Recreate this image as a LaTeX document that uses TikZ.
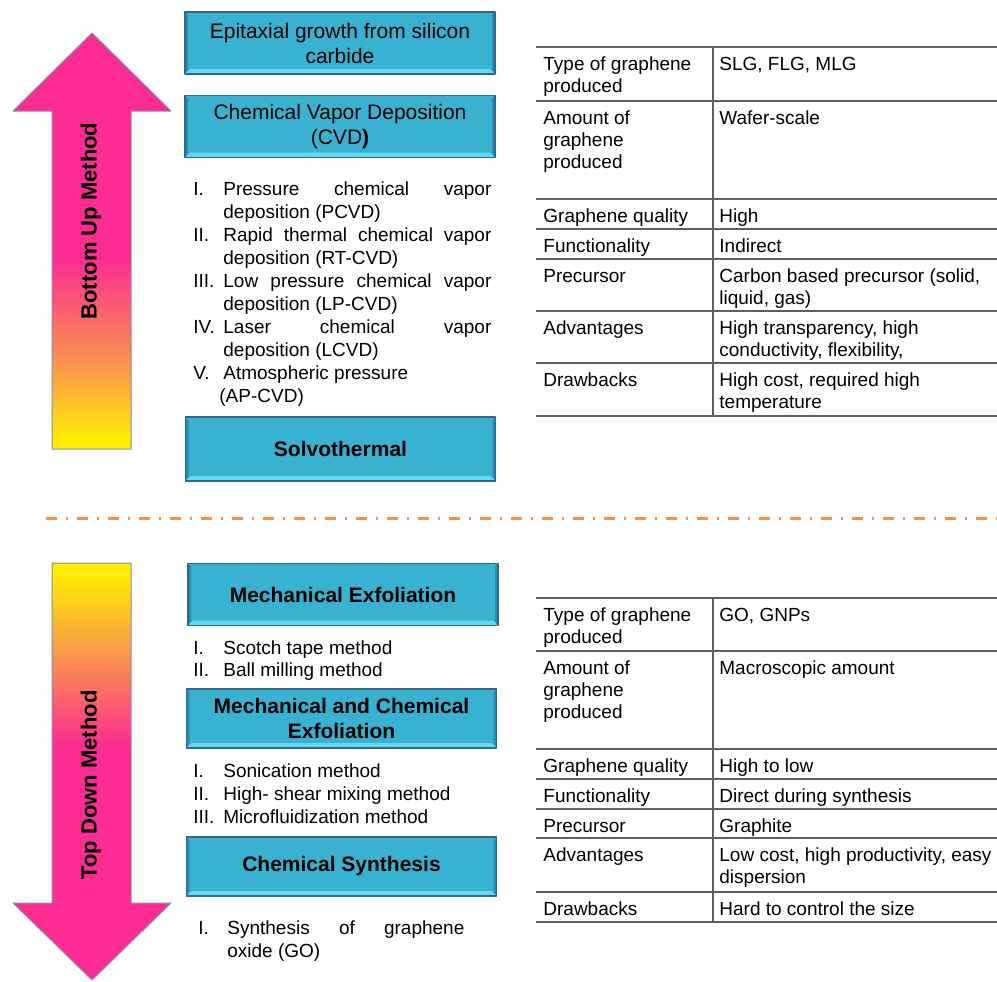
\documentclass[tikz,border=0pt]{standalone}
\usepackage{fontspec}
\setmainfont{Liberation Sans}
\definecolor{hotpink}{RGB}{252,44,146}
\definecolor{sunorange}{RGB}{250,150,75}
\definecolor{lemon}{RGB}{255,238,0}
\pgfdeclareverticalshading{bottomup}{100bp}{color(0bp)=(lemon); color(26bp)=(lemon); color(35bp)=(sunorange); color(48bp)=(hotpink); color(100bp)=(hotpink)}
\pgfdeclareverticalshading{topdown}{100bp}{color(0bp)=(hotpink); color(53bp)=(hotpink); color(64bp)=(sunorange); color(74bp)=(lemon); color(100bp)=(lemon)}
\begin{document}
\begin{tikzpicture}[x=0.5pt,y=-0.5pt,line join=round]
	\definecolor{boxcyan}{RGB}{56,178,208}
	\definecolor{boxedge}{RGB}{48,105,135}
	\definecolor{bevlight}{RGB}{100,218,242}
	\definecolor{bevdark}{RGB}{38,140,176}
	\definecolor{dashorange}{RGB}{245,145,75}
	\definecolor{rulegray}{RGB}{95,95,95}
	\definecolor{arrowedge}{RGB}{140,140,178}
	\def\tabL{536} \def\tabM{713} \def\tabR{997}
	\tikzset{
		hop/.style={draw=boxedge,fill=boxcyan,line width=0.6pt,minimum width=155pt,
			minimum height=31pt,inner sep=0pt,align=center,
			font=\fontsize{10.5}{12.5}\selectfont,
			path picture={
				\fill[bevlight] (path picture bounding box.south west)--(path picture bounding box.south east)
				--([xshift=-2.5pt,yshift=2.5pt]path picture bounding box.south east)
				--([xshift=2.5pt,yshift=2.5pt]path picture bounding box.south west)--cycle;
				\fill[bevdark] (path picture bounding box.south west)--(path picture bounding box.north west)
				--([xshift=1.5pt,yshift=-1.5pt]path picture bounding box.north west)
				--([xshift=1.5pt,yshift=2.5pt]path picture bounding box.south west)--cycle;
				\fill[bevdark] (path picture bounding box.south east)--(path picture bounding box.north east)
				--([xshift=-1.5pt,yshift=-1.5pt]path picture bounding box.north east)
				--([xshift=-1.5pt,yshift=2.5pt]path picture bounding box.south east)--cycle;
		}},
		armlabel/.style={rotate=90,inner sep=0pt,font=\fontsize{11}{13}\selectfont\bfseries},
		itemnum/.style={anchor=north west,inner sep=0pt,font=\fontsize{9.5}{11.5}\selectfont},
		itemtext/.style={itemnum,text width=#1,align=justify},
		cell/.style={anchor=north west,inner sep=0pt,align=left,font=\fontsize{9.5}{11.2}\selectfont},
		tabrule/.style={draw=rulegray,line width=0.6pt}
	}
	\useasboundingbox (0,0) rectangle (997,981);
	
	%% hai mui ten
	\shade[shading=bottomup,draw=arrowedge,line width=0.5pt] (52,449)--(52,111)--(13,111)--(92,33)
	--(171,111)--(131,111)--(131,449)--cycle;
	\shade[shading=topdown,draw=arrowedge,line width=0.5pt] (52,563)--(131,563)--(131,903)--(171,903)
	--(92,980)--(13,903)--(52,903)--cycle;
	\node[armlabel] (uplabel) at (91,221) {Bottom Up Method};
	\node[armlabel] (downlabel) at (91,785) {Top Down Method};
	
	%% bottom up
	\node[hop] (epitax) at (340,43) {Epitaxial growth from silicon\\carbide};
	\node[hop] (cvd) at (340,126.5) {Chemical Vapor Deposition\\(CVD\textbf{)}};
	\foreach \num/\txt [count=\i] in {I./{Pressure chemical vapor\linebreak deposition (PCVD)},
		II./{Rapid thermal chemical vapor\linebreak deposition (RT-CVD)},
		III./{Low pressure chemical vapor\linebreak deposition (LP-CVD)},
		IV./{Laser chemical vapor\linebreak deposition (LCVD)},
		V./{Atmospheric pressure\\\hspace*{-2pt}(AP-CVD)}}
	{
		\node[itemnum] (cvdn\i) at (193,133+46*\i) {\strut\num};
		\node[itemtext=134pt] (cvdi\i) at (223,133+46*\i) {\strut\txt};
	}
	\node[hop,font=\fontsize{10.5}{12.5}\selectfont\bfseries,minimum height=32pt] (solvo) at (340.5,449) {Solvothermal};
	
	%% --------
	\draw[dashorange,line width=1.5pt,dash pattern=on 5.5pt off 4.5pt on 1pt off 4.5pt] (46,518)--(997,518);
	
	%% top down
	\node[hop,font=\fontsize{10.5}{12.5}\selectfont\bfseries] (mechex) at (343,594.5) {Mechanical Exfoliation};
	\node[itemnum] (mxn1) at (193,638) {\strut I.};
	\node[itemnum] (mxi1) at (223,638) {\strut Scotch tape method};
	\node[itemnum] (mxn2) at (193,660) {\strut II.};
	\node[itemnum] (mxi2) at (223,660) {\strut Ball milling method};
	\node[hop,font=\fontsize{10.5}{12.5}\selectfont\bfseries,minimum height=29.5pt] (mechchem) at (341.5,718.5) {Mechanical and Chemical\\Exfoliation};
	\node[itemnum] (mcn1) at (193,761) {\strut I.};
	\node[itemnum] (mci1) at (223,761) {\strut Sonication method};
	\node[itemnum] (mcn2) at (193,784) {\strut II.};
	\node[itemnum] (mci2) at (223,784) {\strut High- shear mixing method};
	\node[itemnum] (mcn3) at (193,807) {\strut III.};
	\node[itemnum] (mci3) at (223,807) {\strut Microfluidization method};
	\node[hop,font=\fontsize{10.5}{12.5}\selectfont\bfseries,minimum height=29.5pt] (chemsyn) at (341.5,866.5) {Chemical Synthesis};
	\node[itemnum] (csn1) at (198,918) {\strut I.};
	\node[itemtext=118.5pt] (csi1) at (227,918) {\strut Synthesis of graphene\linebreak oxide (GO)};
	
	%% bang tren
	\foreach \y in {47,101,199,229,259,311,363,416}
		\draw[tabrule] (\tabL,\y)--(\tabR,\y);
	\draw[tabrule] (\tabM,47)--(\tabM,416);
	\foreach \y/\a/\b [count=\i] in {47/{Type of graphene\\produced}/{SLG, FLG, MLG},
		101/{Amount of\\graphene\\produced}/{Wafer-scale},
		199/{Graphene quality}/{High},
		229/{Functionality}/{Indirect},
		259/{Precursor}/{Carbon based precursor (solid,\\liquid, gas)},
		311/{Advantages}/{High transparency, high\\conductivity, flexibility,},
		363/{Drawbacks}/{High cost, required high\\temperature}}
	{
		\node[cell] (bua\i) at (543,\y+7) {\strut\a};
		\node[cell] (bub\i) at (719,\y+7) {\strut\b};
	}
	
	%% bang duoi
	\foreach \y in {598,651,749,779,809,838,892,922}
		\draw[tabrule] (\tabL,\y)--(\tabR,\y);
	\draw[tabrule] (\tabM,598)--(\tabM,922);
	\foreach \y/\a/\b [count=\i] in {598/{Type of graphene\\produced}/{GO, GNPs},
		651/{Amount of\\graphene\\produced}/{Macroscopic amount},
		749/{Graphene quality}/{High to low},
		779/{Functionality}/{Direct during synthesis},
		809/{Precursor}/{Graphite},
		838/{Advantages}/{Low cost, high productivity, easy\\dispersion},
		892/{Drawbacks}/{Hard to control the size}}
	{
		\node[cell] (tda\i) at (543,\y+7) {\strut\a};
		\node[cell] (tdb\i) at (719,\y+7) {\strut\b};
	}
\end{tikzpicture}
\end{document}
